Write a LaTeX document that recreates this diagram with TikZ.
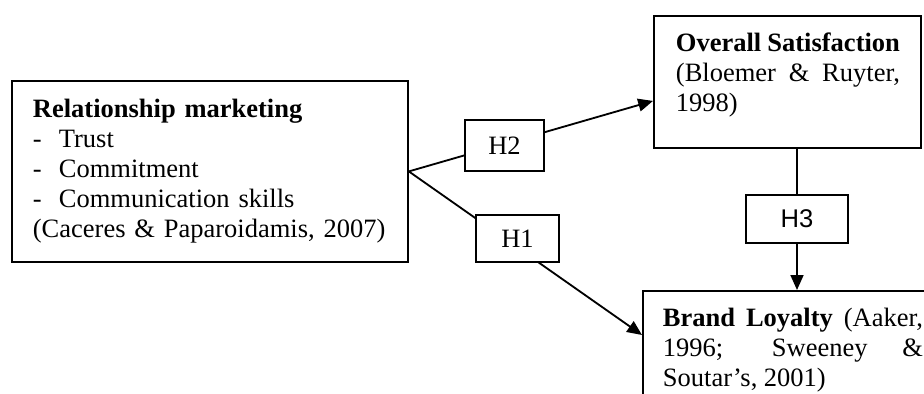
\documentclass[tikz,border=0pt]{standalone}
\usepackage{fontspec}
\setmainfont{Liberation Serif}
\newfontfamily\arialfont{Liberation Sans}
\usetikzlibrary{arrows.meta,positioning,calc}
\hyphenpenalty=10000
\tolerance=10000
\newcommand{\dashitem}[1]{\makebox[0.65cm][l]{-}#1}

\begin{document}
\begin{tikzpicture}[line width=1.3pt,
  every node/.style={font=\fontsize{18.85}{21.3}\selectfont},
  frame/.style={draw,rectangle,inner sep=0pt},
  hyp/.style={draw,fill=white,inner sep=0pt},
  body/.style={inner sep=0pt,align=justify,anchor=north west},
  tip/.style={-{Triangle[length=0.37cm,width=0.32cm]}}]
\useasboundingbox (0,0) rectangle (23.1,-9.85);
\clip (0,0) rectangle (23.1,-9.85);
\node[frame,anchor=north west,text width=8.85cm,inner xsep=0.525cm,minimum height=4.525cm,align=left] (relmkt) at (0.275,-2.0)
  {\textbf{Relationship marketing}\\ \dashitem{Trust}\\ \dashitem{Commitment}\\ \dashitem{Communication skills}\\ (Caceres \& Paparoidamis, 2007)};
\node[frame,anchor=north west,minimum width=6.675cm,minimum height=3.3cm] (satis) at (16.325,-0.375) {};
\node[body,text width=5.6cm] (satistxt) at ([xshift=0.55cm,yshift=-0.42cm]satis.north west)
  {\textbf{Overall Satisfaction}\newline (Bloemer \& Ruyter, 1998)};
\node[frame,anchor=north west,minimum width=7.5cm,minimum height=4cm] (loyal) at (16.05,-7.25) {};
\node[body,text width=6.5cm] (loyaltxt) at ([xshift=0.5cm,yshift=-0.425cm]loyal.north west)
  {\textbf{Brand Loyalty} (Aaker, 1996; Sweeney \& Soutar's, 2001)};
\draw[tip] (relmkt.east) -- ([yshift=-0.475cm]satis.west);
\draw[tip] (relmkt.east) -- ([yshift=-1.125cm]loyal.north west);
\node[hyp,minimum width=1.975cm,minimum height=1.275cm] (hb) at (12.6125,-3.6375) {H2};
\node[hyp,minimum width=2.075cm,minimum height=1.175cm] (ha) at (12.9375,-5.9625) {H1};
\node[hyp,minimum width=2.55cm,minimum height=1.2cm,font=\arialfont\fontsize{18.2}{21}\selectfont] (hc) at (19.925,-5.475) {H3};
\draw (satis.south -| hc) -- (hc.north);
\draw[tip] (hc.south) -- (hc.south |- loyal.north);
\end{tikzpicture}
\end{document}
